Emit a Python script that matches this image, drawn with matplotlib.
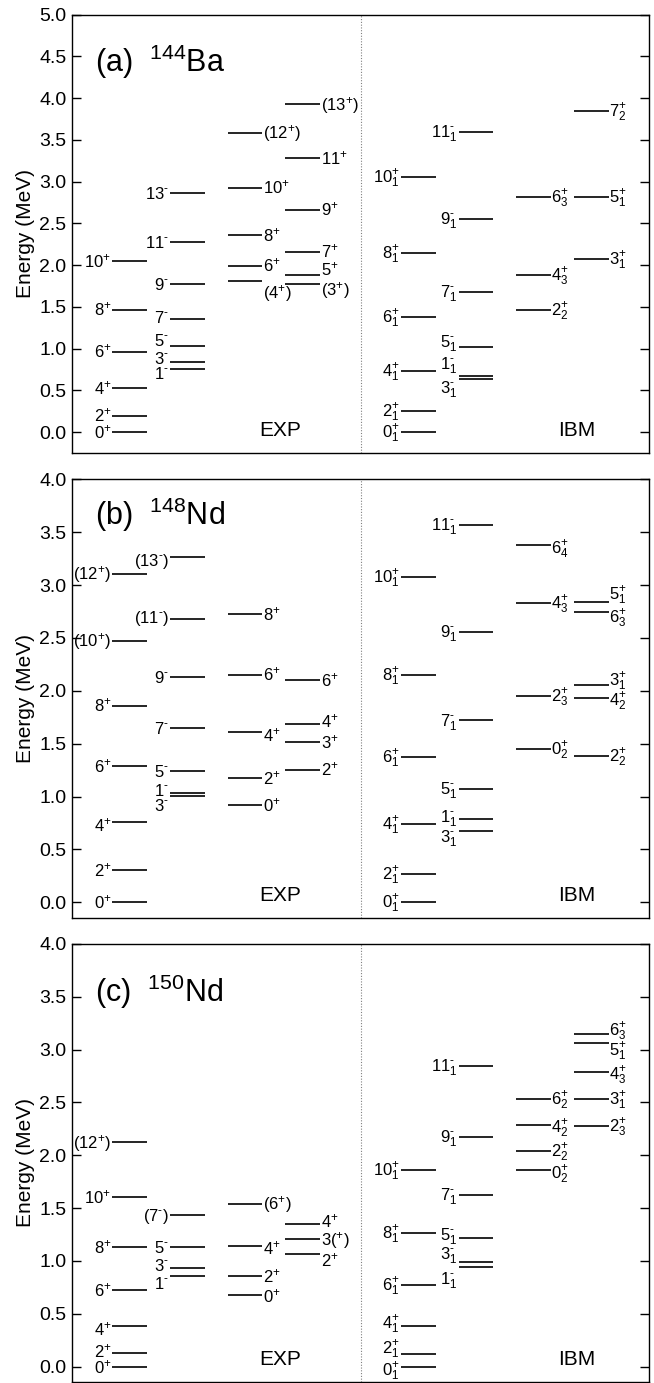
import numpy as np
import matplotlib
matplotlib.use("Agg")
import matplotlib.pyplot as plt

plt.rcParams['font.family'] = ['Liberation Sans', 'DejaVu Sans']
plt.rcParams['mathtext.fontset'] = 'custom'
plt.rcParams['mathtext.rm'] = 'Liberation Sans'
plt.rcParams['mathtext.it'] = 'Liberation Sans:italic'
plt.rcParams['mathtext.bf'] = 'Liberation Sans:bold'
plt.rcParams['mathtext.fallback'] = 'stixsans'

# (a) 144Ba  -- energies in MeV, one list per column
ba_exp_E = [[0.0, 0.200, 0.531, 0.966, 1.468, 2.047],
            [0.762, 0.842, 1.037, 1.357, 1.776, 2.283, 2.869],
            [1.808, 1.995, 2.362, 2.929, 3.587],
            [1.772, 1.883, 2.163, 2.666, 3.280, 3.927]]
ba_exp_J = [["0+", "2+", "4+", "6+", "8+", "10+"],
            ["1-", "3-", "5-", "7-", "9-", "11-", "13-"],
            ["(4+)", "6+", "8+", "10+", "(12+)"],
            ["(3+)", "5+", "7+", "9+", "11+", "(13+)"]]
ba_ibm_E = [[0.0, 0.255, 0.734, 1.385, 2.151, 3.061],
            [0.638, 0.678, 1.026, 1.684, 2.554, 3.599],
            [1.464, 1.883, 2.821],
            [2.075, 2.821, 3.847]]
ba_ibm_J = [["0+1", "2+1", "4+1", "6+1", "8+1", "10+1"],
            ["3-1", "1-1", "5-1", "7-1", "9-1", "11-1"],
            ["2+2", "4+3", "6+3"],
            ["3+1", "5+1", "7+2"]]

# (b) 148Nd
nd148_exp_E = [[0.0, 0.306, 0.757, 1.289, 1.860, 2.474, 3.108],
               [1.006, 1.031, 1.245, 1.652, 2.134, 2.679, 3.269],
               [0.920, 1.176, 1.608, 2.153, 2.727],
               [1.255, 1.516, 1.690, 2.102]]
nd148_exp_J = [["0+", "2+", "4+", "6+", "8+", "(10+)", "(12+)"],
               ["3-", "1-", "5-", "7-", "9-", "(11-)", "(13-)"],
               ["0+", "2+", "4+", "6+", "8+"],
               ["2+", "3+", "4+", "6+"]]
nd148_ibm_E = [[0.0, 0.268, 0.738, 1.371, 2.150, 3.076],
               [0.678, 0.788, 1.072, 1.721, 2.556, 3.568],
               [1.453, 1.951, 2.834, 3.379],
               [1.384, 1.929, 2.055, 2.749, 2.843]]
nd148_ibm_J = [["0+1", "2+1", "4+1", "6+1", "8+1", "10+1"],
               ["3-1", "1-1", "5-1", "7-1", "9-1", "11-1"],
               ["0+2", "2+3", "4+3", "6+4"],
               ["2+2", "4+2", "3+1", "6+3", "5+1"]]

# (c) 150Nd
nd150_exp_E = [[0.0, 0.132, 0.385, 0.726, 1.132, 1.606, 2.123],
               [0.858, 0.937, 1.132, 1.435],
               [0.678, 0.855, 1.142, 1.543],
               [1.069, 1.205, 1.353]]
nd150_exp_J = [["0+", "2+", "4+", "6+", "8+", "10+", "(12+)"],
               ["1-", "3-", "5-", "(7-)"],
               ["0+", "2+", "4+", "(6+)"],
               ["2+", "3(+)", "4+"]]
nd150_ibm_E = [[0.0, 0.123, 0.388, 0.776, 1.268, 1.864],
               [0.943, 0.987, 1.221, 1.625, 2.173, 2.849],
               [1.864, 2.038, 2.290, 2.533],
               [2.278, 2.533, 2.789, 3.066, 3.145]]
nd150_ibm_J = [["0+1", "2+1", "4+1", "6+1", "8+1", "10+1"],
               ["1-1", "3-1", "5-1", "7-1", "9-1", "11-1"],
               ["0+2", "2+2", "4+2", "6+2"],
               ["2+3", "3+1", "4+3", "5+1", "6+3"]]

# extra vertical shifts of some labels (points) so that close levels stay readable
ba_shift = {("exp", 1, "1-"): -2.9, ("exp", 1, "3-"): 2.9, ("exp", 1, "5-"): 4.0,
            ("exp", 1, "7-"): 1.7, ("exp", 2, "(4+)"): -8.0,
            ("exp", 3, "(3+)"): -3.6, ("exp", 3, "5+"): 3.8,
            ("ibm", 1, "1-1"): 8.4, ("ibm", 1, "3-1"): -5.8, ("ibm", 1, "5-1"): 3.4}
nd148_shift = {("exp", 0, "4+"): -2.0, ("exp", 1, "(13-)"): -2.4, ("exp", 1, "(11-)"): 1.7,
               ("exp", 1, "1-"): 2.4, ("exp", 1, "3-"): -6.7, ("exp", 2, "4+"): -2.4,
               ("exp", 3, "4+"): 1.4,
               ("ibm", 1, "1-1"): 1.7, ("ibm", 1, "3-1"): -4.0, ("ibm", 2, "6+4"): -1.7,
               ("ibm", 3, "5+1"): 6.0, ("ibm", 3, "6+3"): -3.8, ("ibm", 3, "3+1"): 3.6,
               ("ibm", 3, "4+2"): -1.2}
nd150_shift = {("exp", 0, "4+"): -2.2, ("exp", 0, "2+"): 1.2, ("exp", 0, "0+"): -0.8,
               ("exp", 1, "3-"): 1.9, ("exp", 1, "1-"): -5.3,
               ("exp", 2, "4+"): -1.4, ("exp", 2, "0+"): -1.2,
               ("exp", 3, "4+"): 1.4, ("exp", 3, "2+"): -4.6,
               ("ibm", 0, "4+1"): 1.7, ("ibm", 0, "2+1"): 4.3, ("ibm", 0, "0+1"): -2.6,
               ("ibm", 1, "5-1"): 1.9, ("ibm", 1, "3-1"): 6.2, ("ibm", 1, "1-1"): -8.2,
               ("ibm", 2, "4+2"): -1.4, ("ibm", 2, "0+2"): -2.6,
               ("ibm", 3, "6+3"): 3.6, ("ibm", 3, "5+1"): -5.3, ("ibm", 3, "4+3"): -1.2}

exp_x = [1, 2, 3, 4]
ibm_x = [6, 7, 8, 9]
hw = 0.3
fs_lab = 12
HY = "\u2010"  # short hyphen for negative parity


def exp_label(s):
    s = s.replace("+", "$^{+}$").replace("-", "$^{%s}$" % HY)
    return s


def ibm_label(s):
    for p in "+-":
        if p in s:
            j, n = s.split(p)
            q = HY if p == "-" else p
            return "$%s^{%s}_{%s}$" % (j, q, n)
    return s


def draw_levels(ax, xs, E, J, kind, shift, fmt):
    for c, (x, es, js) in enumerate(zip(xs, E, J)):
        for e, j in zip(es, js):
            ax.plot([x - hw, x + hw], [e, e], color='black', lw=1.2,
                    solid_capstyle='butt')
            dy = -0.36*fs_lab + shift.get((kind, c, j), 0.0)
            if c < 2:
                ax.annotate(fmt(j), (x - hw, e), xytext=(-0.8, dy),
                            textcoords='offset points', ha='right',
                            va='baseline', fontsize=fs_lab)
            else:
                ax.annotate(fmt(j), (x + hw, e), xytext=(0.3, dy),
                            textcoords='offset points', ha='left',
                            va='baseline', fontsize=fs_lab)


def draw_panel(ax, exp_E, exp_J, ibm_E, ibm_J, shift, ylim, title, ty):
    draw_levels(ax, exp_x, exp_E, exp_J, "exp", shift, exp_label)
    draw_levels(ax, ibm_x, ibm_E, ibm_J, "ibm", shift, ibm_label)
    ax.axvline(5, color='gray', ls=(0, (1, 1.5)), lw=0.8)
    ax.set_xlim(0, 10)
    ax.set_ylim(*ylim)
    ax.set_xticks([])
    ax.set_yticks(np.arange(0, ylim[1] + 0.01, 0.5))
    ax.yaxis.set_major_formatter(matplotlib.ticker.FormatStrFormatter('%.1f'))
    ax.tick_params(axis='y', direction='in', length=6.5, width=1, right=True,
                   labelsize=14, pad=4)
    for sp in ax.spines.values():
        sp.set_linewidth(1.0)
    ax.set_ylabel('Energy (MeV)', fontsize=15, labelpad=3)
    ax.text(0.04, ty, title, transform=ax.transAxes, fontsize=22, va='center')
    tr = ax.get_xaxis_transform()
    ax.text(3.6, 0.05, 'EXP', transform=tr, fontsize=15, ha='center', va='center')
    ax.text(8.75, 0.05, 'IBM', transform=tr, fontsize=15, ha='center', va='center')


fig = plt.figure(figsize=(6.54, 13.83), dpi=100)
W, H = 654.0, 1383.0
ax1 = fig.add_axes([72/W, 1 - 452.7/H, 577/W, 438/H])
ax2 = fig.add_axes([72/W, 1 - 917.7/H, 577/W, 438.4/H])
ax3 = fig.add_axes([72/W, 1 - 1381.5/H, 577/W, 437.5/H])

draw_panel(ax1, ba_exp_E, ba_exp_J, ba_ibm_E, ba_ibm_J, ba_shift,
           (-0.245, 5.0), '(a)  $^{144}$Ba', 0.893)
draw_panel(ax2, nd148_exp_E, nd148_exp_J, nd148_ibm_E, nd148_ibm_J, nd148_shift,
           (-0.146, 4.0), '(b)  $^{148}$Nd', 0.919)
draw_panel(ax3, nd150_exp_E, nd150_exp_J, nd150_ibm_E, nd150_ibm_J, nd150_shift,
           (-0.142, 4.0), '(c)  $^{150}$Nd', 0.891)

fig.savefig('out.png', dpi=100)
